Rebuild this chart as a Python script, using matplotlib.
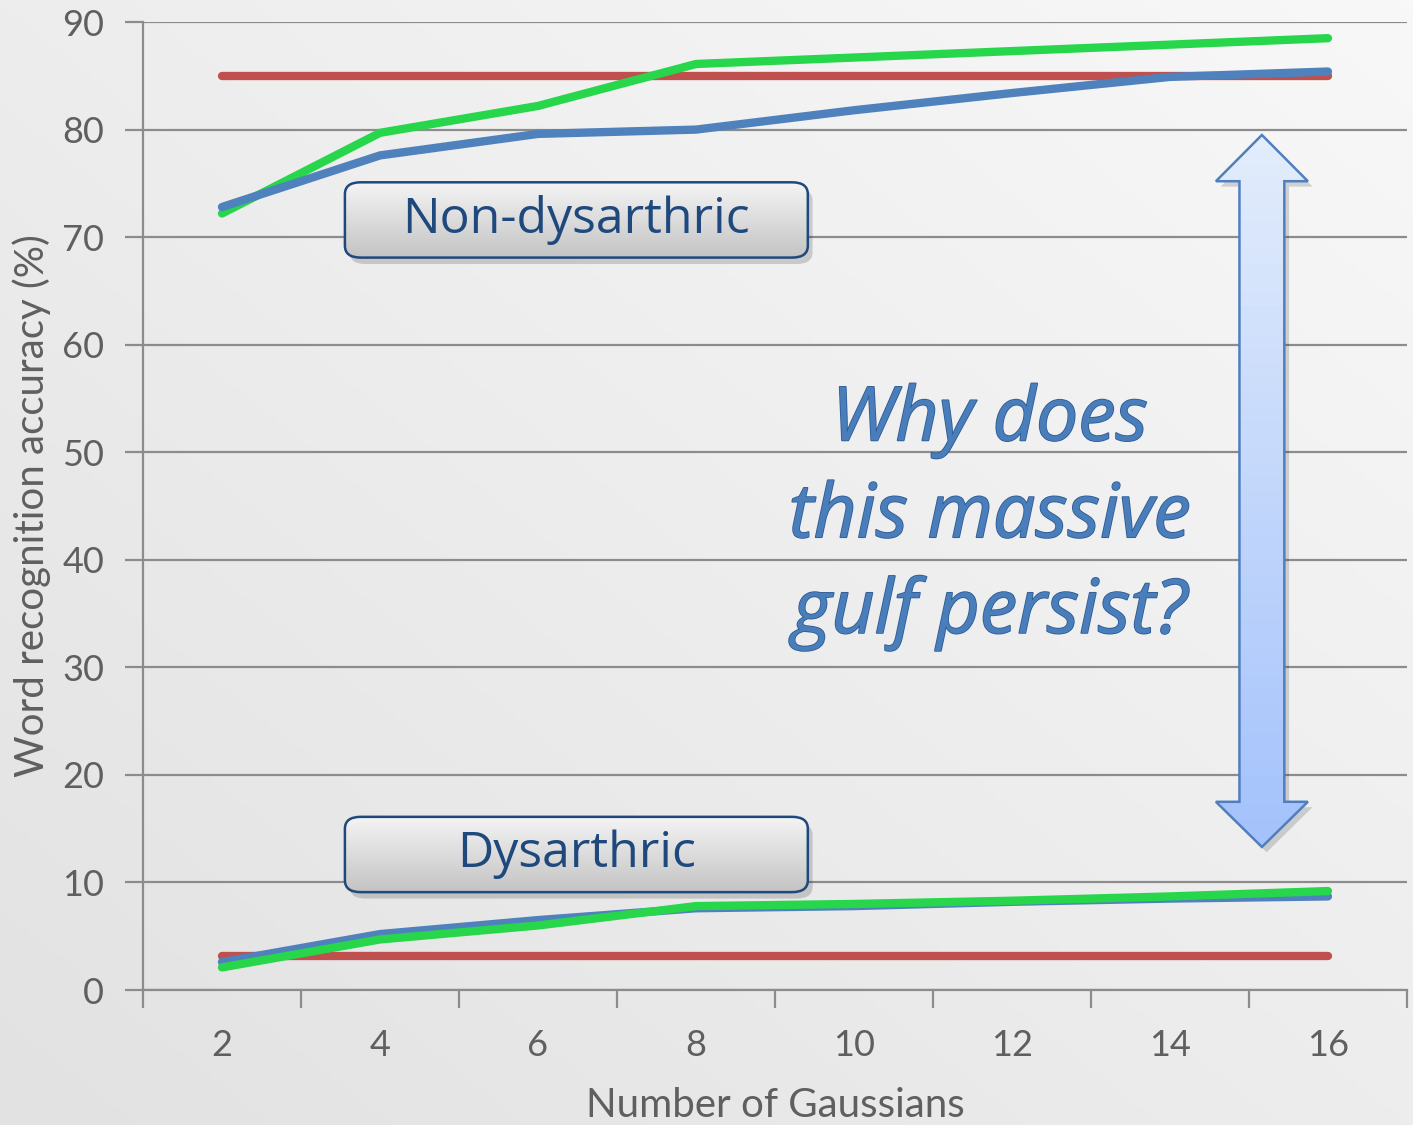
import numpy as np
import matplotlib
matplotlib.use("Agg")
import matplotlib.pyplot as plt
from matplotlib.patches import FancyBboxPatch, Polygon
import matplotlib.patheffects as pe

# data
gaussians = ["2", "4", "6", "8", "10", "12", "14", "16"]
non_dys_baseline = [85, 85, 85, 85, 85, 85, 85, 85]
non_dys_blue = [72.8, 77.6, 79.6, 80.0, 81.8, 83.4, 84.9, 85.4]
non_dys_green = [72.2, 79.7, 82.2, 86.1, 86.7, 87.3, 87.9, 88.5]
dys_baseline = [3.2, 3.2, 3.2, 3.2, 3.2, 3.2, 3.2, 3.2]
dys_blue = [2.6, 5.2, 6.5, 7.6, 7.8, 8.2, 8.5, 8.7]
dys_green = [2.1, 4.7, 6.0, 7.8, 8.0, 8.3, 8.7, 9.2]
y_ticks = [0, 10, 20, 30, 40, 50, 60, 70, 80, 90]

RED = "#c0504d"
BLUE = "#4f81bd"
GREEN = "#27d64a"
GRAY_TXT = "#5f5f5f"
GRID = "#8c8c8c"
NAVY = "#1f497d"
TICK_FONT = "Lato"

fig = plt.figure(figsize=(14.13, 11.25), dpi=100)

# background gradient
bg = fig.add_axes([0, 0, 1, 1], zorder=-2)
yy, xx = np.mgrid[0:1:200j, 0:1:200j]
grad = 0.5 * (xx + (1 - yy))
bg.imshow(grad, cmap=matplotlib.colors.LinearSegmentedColormap.from_list(
    "bg", ["#e2e2e2", "#f8f8f8"]), extent=[0, 1, 0, 1], aspect="auto", origin="upper")
bg.axis("off")

ax = fig.add_axes([0.1012, 0.12, 0.8945, 0.8604])
ax.patch.set_visible(False)
x = np.arange(len(gaussians)) + 0.5

lw = 6
ax.plot(x, non_dys_baseline, color=RED, lw=lw, solid_capstyle="round", zorder=3)
ax.plot(x, dys_baseline, color=RED, lw=lw, solid_capstyle="round", zorder=3)
ax.plot(x, non_dys_green, color=GREEN, lw=lw, solid_capstyle="round", zorder=4)
ax.plot(x, non_dys_blue, color=BLUE, lw=lw, solid_capstyle="round", zorder=5)
ax.plot(x, dys_blue, color=BLUE, lw=lw, solid_capstyle="round", zorder=4)
ax.plot(x, dys_green, color=GREEN, lw=lw, solid_capstyle="round", zorder=5)

ax.set_xlim(0, 8)
ax.set_ylim(0, 90)
ax.set_yticks(y_ticks)
ax.yaxis.grid(True, color=GRID, lw=1.6, zorder=1)
ax.set_axisbelow(True)
ax.set_xticks(np.arange(0, 9))
ax.set_xticklabels([])
ax.set_xticks(x, minor=True)
ax.set_xticklabels(gaussians, minor=True)
ax.tick_params(axis="x", which="major", length=13, width=1.6, color=GRID, direction="out")
ax.tick_params(axis="x", which="minor", length=0, pad=28, labelsize=26, labelcolor=GRAY_TXT)
ax.tick_params(axis="y", length=13, width=1.6, color=GRID, pad=15, labelsize=26, labelcolor=GRAY_TXT)
for lab in ax.get_xticklabels(minor=True) + ax.get_yticklabels():
    lab.set_family(TICK_FONT)
for side in ["top", "right"]:
    ax.spines[side].set_visible(False)
for side in ["left", "bottom"]:
    ax.spines[side].set_color(GRID)
    ax.spines[side].set_linewidth(1.6)

ax.set_ylabel("Word recognition accuracy (%)", fontsize=29, color=GRAY_TXT,
              family=TICK_FONT, labelpad=8)
ax.set_xlabel("Number of Gaussians", fontsize=29, color=GRAY_TXT,
              family=TICK_FONT, labelpad=18)

box_cmap = matplotlib.colors.LinearSegmentedColormap.from_list("box", ["#c4c4c4", "#f4f4f4"])


def label_box(x0, y0, w, h, text):
    shadow = FancyBboxPatch((x0 + 0.03, y0 - 0.6), w, h,
                            boxstyle="round,pad=0,rounding_size=0.1",
                            mutation_aspect=11, fc="#000000", ec="none", alpha=0.16, zorder=6)
    box = FancyBboxPatch((x0, y0), w, h, boxstyle="round,pad=0,rounding_size=0.1",
                         mutation_aspect=11, fc="none", ec=NAVY, lw=1.8, zorder=8)
    ax.add_patch(shadow)
    ax.add_patch(box)
    img = ax.imshow(np.linspace(0, 1, 50)[:, None], cmap=box_cmap, aspect="auto",
                    extent=[x0, x0 + w, y0, y0 + h], origin="lower", zorder=7)
    img.set_clip_path(box)
    ax.text(x0 + w / 2, y0 + h / 2, text, ha="center", va="center", fontsize=36,
            color=NAVY, family="Open Sans", zorder=9)


label_box(1.278, 68.1, 2.93, 7.0, "Non-dysarthric")
label_box(1.278, 9.1, 2.93, 7.0, "Dysarthric")

# double arrow
ac, hw, sw = 7.082, 0.291, 0.142
top_tip, top_base, bot_base, bot_tip = 79.5, 75.2, 17.5, 13.3
arrow_pts = [(ac, top_tip), (ac + hw, top_base), (ac + sw, top_base), (ac + sw, bot_base),
             (ac + hw, bot_base), (ac, bot_tip), (ac - hw, bot_base), (ac - sw, bot_base),
             (ac - sw, top_base), (ac - hw, top_base)]
shadow_pts = [(px + 0.03, py - 0.5) for px, py in arrow_pts]
ax.add_patch(Polygon(shadow_pts, closed=True, fc="#000000", ec="none", alpha=0.15, zorder=6))
arrow = Polygon(arrow_pts, closed=True, fc="none", ec="#4f7fbf", lw=1.8, zorder=8)
ax.add_patch(arrow)
arr_cmap = matplotlib.colors.LinearSegmentedColormap.from_list("arr", ["#a4c2fb", "#e2ecfb"])
aimg = ax.imshow(np.linspace(0, 1, 50)[:, None], cmap=arr_cmap, aspect="auto",
                 extent=[ac - hw, ac + hw, bot_tip, top_tip], origin="lower", zorder=7)
aimg.set_clip_path(arrow)

q_lines = ["Why does", "this massive", "gulf persist?"]
q_base = [51.1, 42.1, 33.2]
for line, yb in zip(q_lines, q_base):
    ax.text(5.36, yb, line, ha="center", va="baseline", fontsize=54, style="italic",
            family="Open Sans", color="#4a7ebb", zorder=9,
            path_effects=[pe.withStroke(linewidth=1.2, foreground="#2c5a94")])

ax.set_xlim(0, 8)
ax.set_ylim(0, 90)

fig.savefig("out.png", dpi=100)
